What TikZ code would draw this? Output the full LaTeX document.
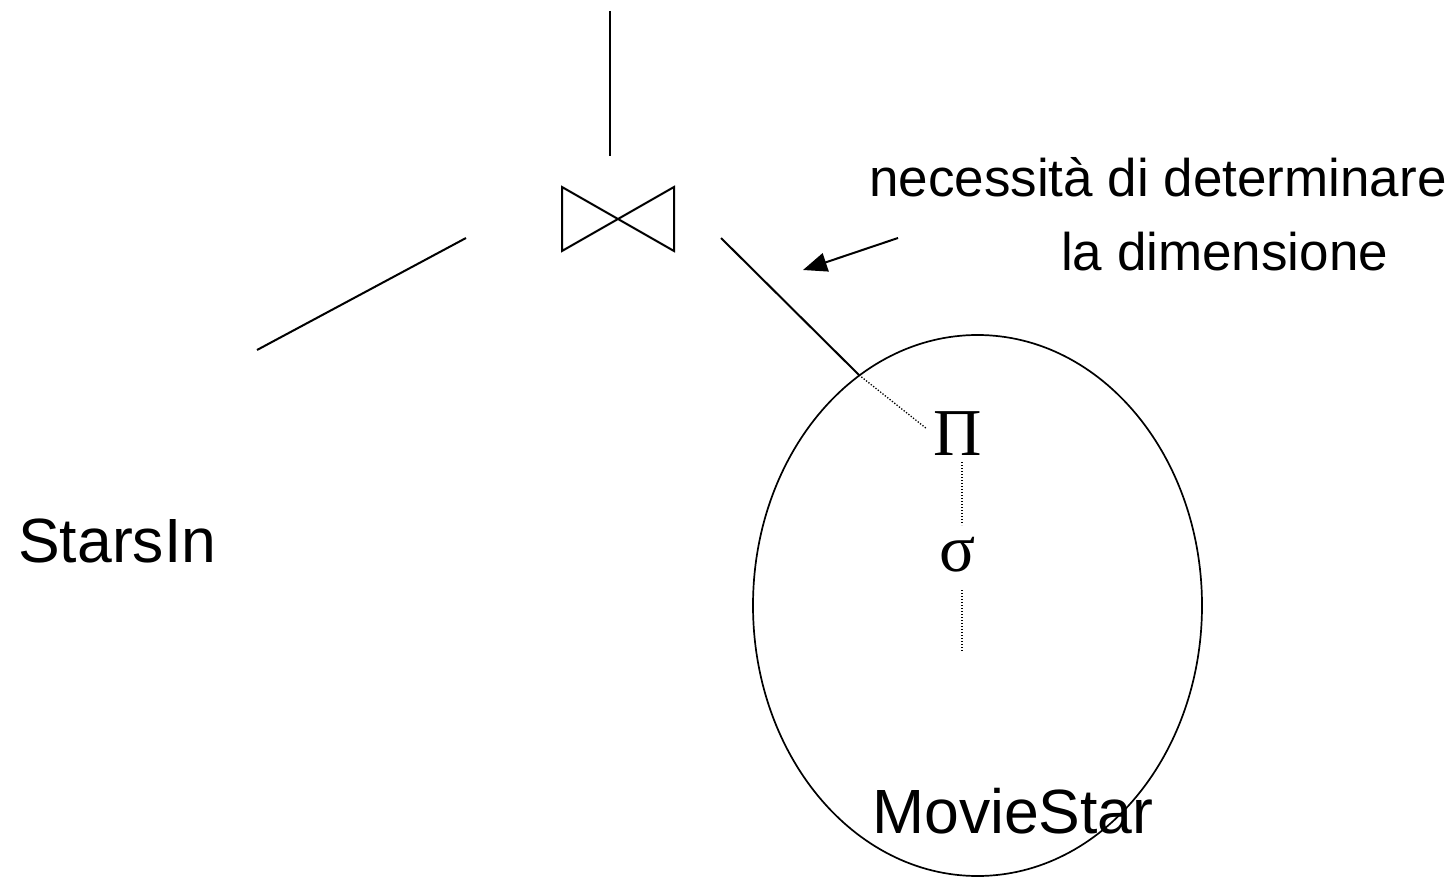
\documentclass[tikz,border=0pt]{standalone}
\usepackage{fontspec}
\setmainfont{Liberation Sans}
\newfontfamily\greekserif{Liberation Serif}
\usetikzlibrary{arrows.meta,shapes.geometric}
\tikzset{
  solidline/.style={line width=2pt},
  dotline/.style={line width=1.3pt, dash pattern=on 1.3pt off 1.7pt},
  label/.style={inner sep=0pt, anchor=base west, font=\fontsize{53}{53}\selectfont},
  relname/.style={inner sep=0pt, anchor=base west, font=\fontsize{62.5}{62.5}\selectfont},
  opsym/.style={inner sep=0pt, font=\greekserif\fontsize{67}{67}\selectfont},
}
\begin{document}
\begin{tikzpicture}[x=1pt,y=-1pt]
\useasboundingbox (0,0) rectangle (1453,877);
% ellipse around MovieStar subtree
\node[ellipse, draw, line width=1.7pt, minimum width=449pt, minimum height=541pt, inner sep=0pt] (grp) at (977.5,605.5) {};
% join operator (bowtie)
\coordinate (jtl) at (562,187);
\coordinate (jbl) at (562,251);
\coordinate (jtr) at (674,187);
\coordinate (jbr) at (674,251);
\draw[solidline, line join=miter] (jtl) -- (jbr) -- (jtr) -- (jbl) -- cycle;
% edges
\coordinate (topA) at (609.5,11);
\coordinate (topB) at (609.5,156);
\draw[solidline] (topA) -- (topB);
\coordinate (leftA) at (466,238);
\coordinate (leftB) at (257,350);
\draw[solidline] (leftA) -- (leftB);
\coordinate (rightA) at (721,238);
\coordinate (rightB) at (859,375);
\coordinate (rightC) at (927,429);
\draw[solidline] (rightA) -- (rightB);
\draw[dotline] (rightB) -- (rightC);
% operators
\node[opsym] (pi) at (958,433.5) {Π};
\node[opsym] (sigma) at (958,555) {σ};
\coordinate (d1a) at (962,462);
\coordinate (d1b) at (962,525);
\coordinate (d2a) at (962,590);
\coordinate (d2b) at (962,652);
\draw[dotline] (d1a) -- (d1b);
\draw[dotline] (d2a) -- (d2b);
% relation names
\node[relname] (stars) at (18,562) {StarsIn};
\node[relname] (movie) at (872,833) {MovieStar};
% annotation
\node[label] (note1) at (869,197) {necessità di determinare};
\node[label] (note2) at (1061,270) {la dimensione};
\coordinate (arrA) at (898,238);
\coordinate (arrB) at (803,270);
\draw[line width=2pt, -{Triangle[length=24pt,width=19pt]}] (arrA) -- (arrB);
\end{tikzpicture}
\end{document}
